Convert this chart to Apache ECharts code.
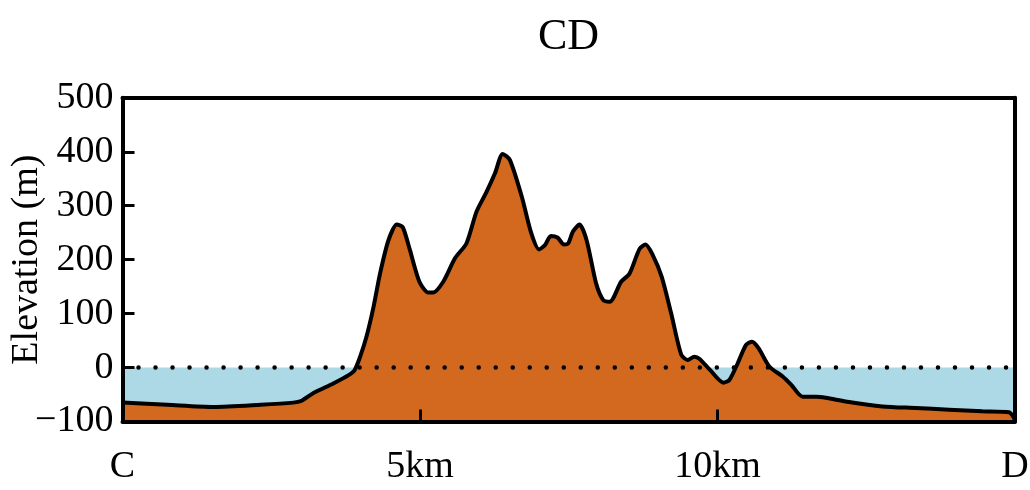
<!DOCTYPE html>
<html>
<head>
<meta charset="utf-8">
<script src="https://cdn.jsdelivr.net/npm/echarts@6/dist/echarts.min.js"></script>
<style>html,body{margin:0;padding:0;background:#fff}#c{width:1030px;height:490px}</style>
</head>
<body>
<div id="c"></div>
<script>
// distance along profile (km)
var distKm = [0, 0.75, 1.53, 2.32, 2.87, 3.0, 3.21, 3.55, 3.8, 3.9, 4.0, 4.1, 4.22, 4.33, 4.47, 4.61, 4.71, 4.83, 4.99, 5.14, 5.22, 5.39, 5.59, 5.78, 5.95, 6.12, 6.26, 6.39, 6.51, 6.71, 6.87, 7.0, 7.1, 7.2, 7.31, 7.42, 7.49, 7.57, 7.68, 7.8, 7.96, 8.08, 8.19, 8.38, 8.52, 8.69, 8.79, 8.91, 9.06, 9.22, 9.39, 9.5, 9.61, 9.7, 9.87, 10.1, 10.2, 10.34, 10.48, 10.58, 10.69, 10.87, 11.1, 11.24, 11.43, 11.66, 11.82, 12.21, 12.77, 13.33, 13.89, 14.45, 14.9, 15.0];
// elevation (m)
var elevM = [-65, -69, -73, -69, -65, -62, -47, -29, -14, -5, 22, 57, 113, 175, 236, 265, 260, 218, 159, 139, 139, 159, 203, 230, 289, 326, 360, 396, 385, 317, 249, 219, 227, 244, 241, 228, 230, 252, 265, 236, 156, 125, 122, 159, 174, 220, 228, 209, 169, 101, 24, 14, 20, 16, -4, -28, -23, 8, 42, 48, 36, 2, -17, -32, -54, -54, -56, -64, -72, -75, -78, -81, -83, -97];
var xTickLabels = {0: 'C', 5: '5km', 10: '10km', 15: 'D'};
var titleText = 'CD';
var yName = 'Elevation (m)';
var seaLevel = 0;

var terrain = distKm.map(function (d, i) { return [d, elevM[i]]; });
var seaLine = [[0, seaLevel], [15, seaLevel]];

var FONT = '"Liberation Serif", "DejaVu Serif", serif';
var chart = echarts.init(document.getElementById('c'), null, {renderer: 'canvas'});
chart.setOption({
  animation: false,
  backgroundColor: '#fff',
  title: {
    text: titleText, left: 533, top: 10,
    textStyle: {fontFamily: FONT, fontSize: 44, fontWeight: 'normal', color: '#000'}
  },
  grid: {left: 122.5, right: 15, top: 97.8, bottom: 68.5, containLabel: false, outerBoundsMode: 'none'},
  xAxis: [{
    type: 'value', min: 0, max: 15, interval: 5, position: 'bottom', z: 10,
    axisLine: {show: true, onZero: false, lineStyle: {color: '#000', width: 4}},
    axisTick: {show: true, inside: true, length: 12, lineStyle: {color: '#000', width: 3}},
    axisLabel: {
      margin: 27, color: '#000', fontFamily: FONT, fontSize: 38,
      formatter: function (v) { return xTickLabels[v] !== undefined ? xTickLabels[v] : ''; }
    },
    splitLine: {show: false}
  }, {
    type: 'value', min: 0, max: 15, position: 'top', z: 10,
    axisLine: {show: true, onZero: false, lineStyle: {color: '#000', width: 4}},
    axisTick: {show: false}, axisLabel: {show: false}, splitLine: {show: false}
  }],
  yAxis: [{
    type: 'value', min: -100, max: 500, interval: 100, position: 'left', z: 10,
    name: yName, nameLocation: 'middle', nameGap: 76, nameRotate: 90, nameMoveOverlap: false,
    nameTextStyle: {fontFamily: FONT, fontSize: 38, color: '#000'},
    axisLine: {show: true, onZero: false, lineStyle: {color: '#000', width: 4}},
    axisTick: {show: true, inside: true, length: 12, lineStyle: {color: '#000', width: 3}},
    axisLabel: {
      margin: 9, color: '#000', fontFamily: FONT, fontSize: 38,
      formatter: function (v) { return String(v).replace('-', '\u2212'); }
    },
    splitLine: {show: false}
  }, {
    type: 'value', min: -100, max: 500, position: 'right', z: 10,
    axisLine: {show: true, onZero: false, lineStyle: {color: '#000', width: 4}},
    axisTick: {show: false}, axisLabel: {show: false}, splitLine: {show: false}
  }],
  series: [{
    name: 'sea', type: 'line', data: seaLine, symbol: 'none', z: 1,
    lineStyle: {width: 0, opacity: 0},
    areaStyle: {color: '#ADD8E6', opacity: 1, origin: 'start'}
  }, {
    name: 'terrain', type: 'line', data: terrain, symbol: 'none', z: 2, smooth: 0.25,
    lineStyle: {color: '#000', width: 4},
    areaStyle: {color: '#D2691E', opacity: 1, origin: 'start'}
  }, {
    name: 'zero', type: 'line', data: seaLine, symbol: 'none', z: 3,
    lineStyle: {color: '#000', width: 4.5, type: [0.01, 17], dashOffset: -16, cap: 'round'}
  }]
});
</script>
</body>
</html>
